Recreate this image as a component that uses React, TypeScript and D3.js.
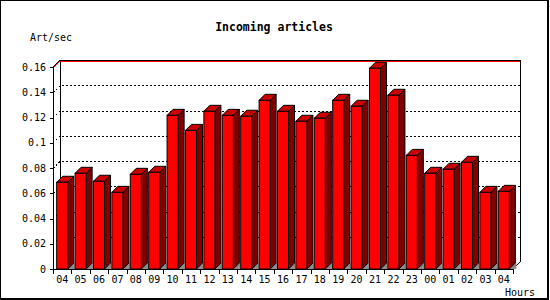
import React from "react";
import * as d3 from "d3";

const hours = ["04","05","06","07","08","09","10","11","12","13","14","15","16","17","18","19","20","21","22","23","00","01","02","03","04"];
const values = [0.0687,0.0758,0.0695,0.0607,0.075,0.0766,0.1217,0.1098,0.1249,0.1217,0.121,0.1336,0.1249,0.117,0.1194,0.1336,0.1289,0.159,0.1376,0.09,0.0758,0.079,0.0845,0.0607,0.0615];
const yTicks = [0,0.02,0.04,0.06,0.08,0.1,0.12,0.14,0.16];

const W = 550, H = 300;
const left = 53, right = 513, bottom = 269, top = 67;
const D = 7; // wall depth
const BD = 6; // bar depth
const mono = "DejaVu Sans Mono, monospace";

export default function App() {
  const keys = hours.map((h, i) => i);
  const x = d3.scaleBand<number>().domain(keys).range([left, right]).paddingInner(0.4).paddingOuter(0.2);
  const step = x.step();
  const y = d3.scaleLinear().domain([0, 0.16]).range([bottom, top]);
  const bw = x.bandwidth();

  return (
    <svg width={W} height={H} style={{ position: "absolute", left: 0, top: 0, background: "#fff" }}>
      <rect x={0} y={0} width={W} height={H} fill="#fff" />
      {/* frame */}
      <rect x={0} y={0} width={549} height={1} fill="#000" />
      <rect x={0} y={0} width={1} height={300} fill="#000" />
      <rect x={547} y={0} width={2} height={300} fill="#000" />
      <rect x={0} y={298} width={549} height={2} fill="#000" />

      {/* title */}
      <text x={274} y={31} textAnchor="middle" fontFamily={mono} fontWeight="bold" fontSize={11.5}>Incoming articles</text>
      <text x={30} y={41} fontFamily={mono} fontSize={10}>Art/sec</text>
      <text x={505} y={296} fontFamily={mono} fontSize={10}>Hours</text>

      {/* gridlines */}
      {yTicks.filter(t => t > 0 && t < 0.16).map((t, i) => (
        <polyline key={"g" + i} points={`${left},${y(t) + 0.5} ${left + D},${y(t) - D + 0.5} ${right + D},${y(t) - D + 0.5}`}
          fill="none" stroke="#000" strokeWidth={1} strokeDasharray="2,2" shapeRendering="crispEdges" />
      ))}

      {/* back wall edges */}
      <line x1={left + D + 0.5} y1={top - D} x2={left + D + 0.5} y2={bottom - D} stroke="#000" shapeRendering="crispEdges" />
      <line x1={right + D + 0.5} y1={top - D} x2={right + D + 0.5} y2={bottom - D} stroke="#000" shapeRendering="crispEdges" />
      <line x1={left + D} y1={top - D + 1.5} x2={right + D} y2={top - D + 1.5} stroke="#ff0000" shapeRendering="crispEdges" />
      <line x1={left + D} y1={top - D + 0.5} x2={right + D + 1} y2={top - D + 0.5} stroke="#000" shapeRendering="crispEdges" />
      <line x1={left} y1={top + 1} x2={left + D} y2={top - D + 1} stroke="#ff0000" />
      <line x1={left} y1={top} x2={left + D} y2={top - D} stroke="#000" />
      <line x1={right} y1={bottom} x2={right + D} y2={bottom - D} stroke="#000" />

      {/* bars */}
      {values.map((v, i) => {
        const x0 = x(i)!;
        const x1 = x0 + bw;
        const yt = y(v);
        return (
          <g key={"b" + i}>
            <polygon points={`${x1},${bottom} ${x1 + BD + 1},${bottom - BD - 1} ${x1 + BD + 1},${bottom}`} fill="#8c8c8c" />
            <polygon points={`${x1},${yt} ${x1 + BD},${yt - BD} ${x1 + BD},${bottom - BD} ${x1},${bottom}`} fill="#800000" stroke="#000" strokeWidth={1} strokeLinejoin="miter" />
            <polygon points={`${x0},${yt} ${x0 + BD},${yt - BD} ${x1 + BD},${yt - BD} ${x1},${yt}`} fill="#cc0000" stroke="#000" strokeWidth={1} />
            <rect x={x0} y={yt} width={bw} height={bottom - yt} fill="#ff0000" stroke="#000" strokeWidth={1} />
          </g>
        );
      })}

      {/* y axis */}
      <line x1={left + 0.5} y1={top} x2={left + 0.5} y2={bottom + 1} stroke="#000" shapeRendering="crispEdges" />
      {yTicks.map((t, i) => (
        <g key={"y" + i}>
          <line x1={left - 3} y1={y(t) + 0.5} x2={left + 1} y2={y(t) + 0.5} stroke="#000" shapeRendering="crispEdges" />
          <text x={46} y={y(t) + 3.5} textAnchor="end" fontFamily={mono} fontSize={10}>{String(+t.toFixed(2))}</text>
        </g>
      ))}

      {/* x axis */}
      <line x1={left} y1={bottom + 0.5} x2={right + 1} y2={bottom + 0.5} stroke="#000" shapeRendering="crispEdges" />
      {d3.range(hours.length + 1).map(i => (
        <line key={"xt" + i} x1={Math.round(left + i * step) + 0.5} y1={bottom} x2={Math.round(left + i * step) + 0.5} y2={bottom + 5} stroke="#000" shapeRendering="crispEdges" />
      ))}
      {hours.map((h, i) => (
        <text key={"xl" + i} x={x(i)! + bw / 2} y={283} textAnchor="middle" fontFamily={mono} fontSize={10}>{h}</text>
      ))}
    </svg>
  );
}
